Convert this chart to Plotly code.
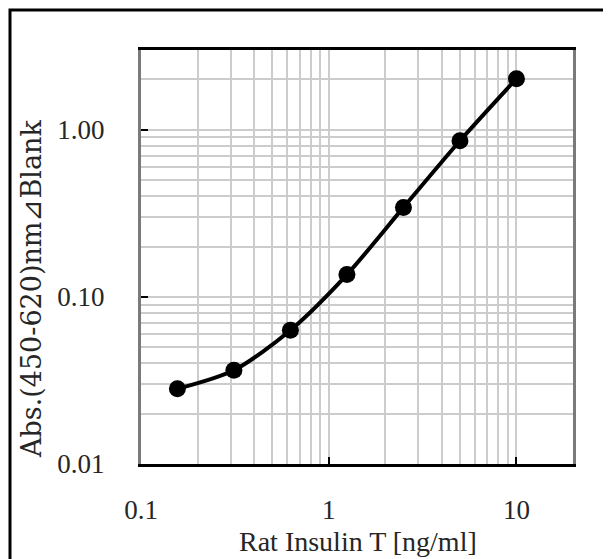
import math
import plotly.graph_objects as go

# ---- data ----
concentration = [0.15625, 0.3125, 0.625, 1.25, 2.5, 5, 10]
absorbance = [0.0282, 0.0364, 0.0632, 0.136, 0.343, 0.859, 2.02]

x_tickvals = [0.1, 1, 10]
x_ticktext = ["0.1", "1", "10"]
y_tickvals = [0.01, 0.1, 1]
y_ticktext = ["0.01", "0.10", "1.00"]
x_minor = [0.2, 0.3, 0.4, 0.5, 0.6, 0.7, 0.8, 0.9, 2, 3, 4, 5, 6, 7, 8, 9]
y_minor = [0.02, 0.03, 0.04, 0.05, 0.06, 0.07, 0.08, 0.09,
           0.2, 0.3, 0.4, 0.5, 0.6, 0.7, 0.8, 0.9, 2]

x_title = "Rat Insulin T [ng/ml]"
y_title = "Abs.(450-620)nm⊿Blank"

# ---- geometry (page body adds an 8px offset) ----
OFF = 8
W, H = 611 - OFF, 559 - OFF
L, T = 141 - OFF, 50 - OFF
R = W - (573 - OFF)
B = H - (464 - OFF)
pw, ph = W - L - R, H - T - B


def px(x_screen):
    return (x_screen - OFF - L) / pw


def py(y_screen):
    return (H - B - (y_screen - OFF)) / ph


TEXT = "#262626"
SERIF = "Liberation Serif, Times New Roman, serif"

fig = go.Figure()
fig.add_trace(go.Scatter(
    x=concentration, y=absorbance, mode="lines+markers",
    line=dict(color="black", width=4, shape="spline", smoothing=0.8),
    marker=dict(color="black", size=17),
    showlegend=False, cliponaxis=False,
))

grid = "#cccccc"
fig.update_xaxes(
    type="log", range=[-1, math.log10(20)],
    tickmode="array", tickvals=x_tickvals, ticktext=x_ticktext,
    ticks="inside", ticklen=7, tickwidth=2, tickcolor="black",
    showgrid=True, gridcolor=grid, gridwidth=1.5,
    minor=dict(tickvals=x_minor, showgrid=True, gridcolor=grid, gridwidth=1.5, ticks=""),
    showline=True, linecolor="black", linewidth=2.5, mirror=True,
    tickfont=dict(family=SERIF, size=27, color=TEXT),
    ticklabelstandoff=20, zeroline=False,
)
fig.update_yaxes(
    type="log", range=[-2, math.log10(3)],
    tickmode="array", tickvals=y_tickvals, ticktext=y_ticktext,
    ticks="inside", ticklen=7, tickwidth=2, tickcolor="black",
    showgrid=True, gridcolor=grid, gridwidth=1.5,
    minor=dict(tickvals=y_minor, showgrid=True, gridcolor=grid, gridwidth=1.5, ticks=""),
    showline=True, linecolor="#7a7a7a", linewidth=3, mirror=True,
    tickfont=dict(family=SERIF, size=27, color=TEXT),
    ticklabelstandoff=28, zeroline=False,
)

fig.add_annotation(
    text=x_title, xref="paper", yref="paper",
    x=px(358), y=py(541), xanchor="center", yanchor="middle",
    showarrow=False, font=dict(family=SERIF, size=28, color=TEXT),
)
fig.add_annotation(
    text=y_title, xref="paper", yref="paper", textangle=-90,
    x=px(31), y=py(289), xanchor="center", yanchor="middle",
    showarrow=False, font=dict(family="DejaVu Serif, serif", size=27, color=TEXT),
)

# outer frame
fig.add_shape(type="rect", xref="paper", yref="paper",
              x0=px(10), y0=py(580), x1=px(606.5), y1=py(10),
              line=dict(color="black", width=3), fillcolor="rgba(0,0,0,0)",
              layer="above")

fig.update_layout(
    width=W, height=H,
    margin=dict(l=L, r=R, t=T, b=B),
    paper_bgcolor="white", plot_bgcolor="white",
    font=dict(family=SERIF, color=TEXT),
)

fig.write_html("out.html")
